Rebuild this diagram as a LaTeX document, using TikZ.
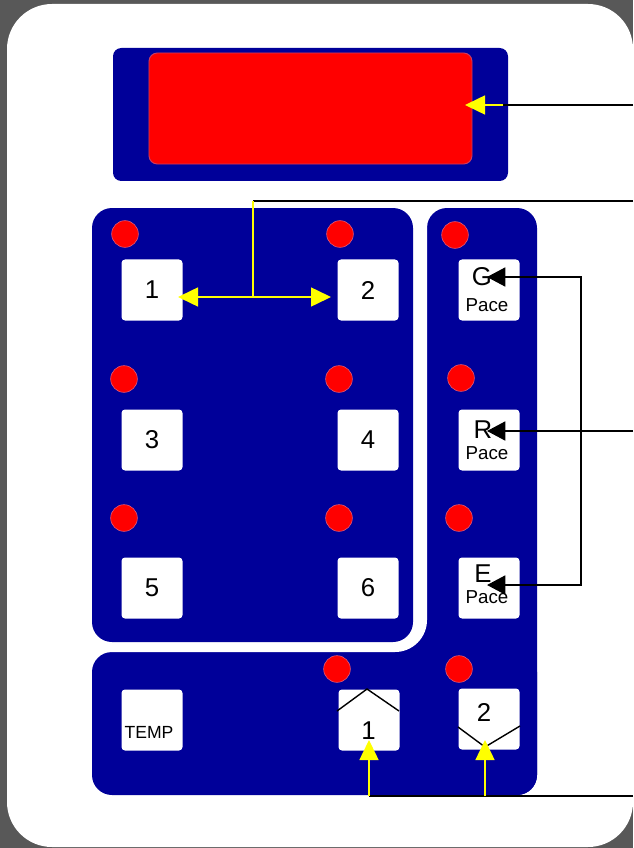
\documentclass[tikz,border=0pt]{standalone}
\usepackage{fontspec}
\newfontfamily\panelfont{Liberation Sans}
\usetikzlibrary{arrows.meta,calc}
\definecolor{panelblue}{RGB}{0,0,153}
\definecolor{bggrey}{RGB}{88,88,88}
\definecolor{ledred}{RGB}{255,0,0}
\definecolor{ledrim}{RGB}{225,90,120}
\definecolor{disprim}{RGB}{200,60,100}
\definecolor{callout}{RGB}{255,255,0}

\begin{document}
\begin{tikzpicture}[x=0.03cm,y=-0.03cm,
    btn/.style={fill=white,rounded corners=3pt,minimum size=1.83cm,inner sep=0pt},
    led/.style={circle,fill=ledred,draw=ledrim,line width=0.5pt,minimum size=0.8cm,inner sep=0pt},
    numtxt/.style={font=\panelfont\fontsize{22}{22}\selectfont,inner sep=0pt},
    pacetxt/.style={font=\panelfont\fontsize{16}{16}\selectfont,inner sep=0pt},
    temptxt/.style={font=\panelfont\fontsize{15}{15}\selectfont,inner sep=0pt},
    bline/.style={black,line width=1.6pt},
    yline/.style={callout,line width=1.3pt},
    yarrow/.style={yline,-{Triangle[length=0.6cm,width=0.57cm]}},
    barrow/.style={bline,-{Triangle[length=0.55cm,width=0.57cm]}},
    chev/.style={black,line width=1.2pt}]
    \useasboundingbox (0,0) rectangle (633,848);

    % case
    \fill[bggrey] (0,0) rectangle (633,848);
    \fill[white,rounded corners=1.35cm] (7,4) rectangle (633,847);

    % display
    \fill[panelblue,rounded corners=0.25cm] (113,48) rectangle (508,181);
    \node[fill=ledred,draw=disprim,line width=0.8pt,rounded corners=0.25cm,
        minimum width=9.69cm,minimum height=3.33cm] (disp) at (310.5,108.5) {};

    % key panels
    \fill[panelblue,rounded corners=0.6cm] (427,208) rectangle (537,795);
    \fill[panelblue,rounded corners=0.6cm] (92,652) rectangle (537,795);
    \fill[panelblue] (380,600) rectangle (440,660);
    \fill[white,rounded corners=0.96cm] (60,192) rectangle (427,652);
    \fill[panelblue,rounded corners=0.6cm] (92,208) rectangle (413,642);

    % leds
    \node[led] (l1) at (125,234) {};
    \node[led] (l2) at (340,234) {};
    \node[led] (l3) at (124,379) {};
    \node[led] (l4) at (339,379) {};
    \node[led] (l5) at (124,518) {};
    \node[led] (l6) at (339,518) {};
    \node[led] (lG) at (455,235) {};
    \node[led] (lR) at (461,378) {};
    \node[led] (lE) at (459,518) {};
    \node[led] (lU) at (337,669) {};
    \node[led] (lD) at (459,669) {};

    % keys
    \node[btn,numtxt] (k1) at (152,290) {1};
    \node[btn,numtxt] (k2) at (368,290) {2};
    \node[btn,numtxt] (k3) at (152,440) {3};
    \node[btn,numtxt] (k4) at (368,440) {4};
    \node[btn,numtxt] (k5) at (152,588) {5};
    \node[btn,numtxt] (k6) at (368,588) {6};
    \node[btn] (kG) at (489,290) {};
    \node[btn] (kR) at (489,440) {};
    \node[btn] (kE) at (489,588) {};
    \node[btn] (kT) at (152,720) {};
    \node[btn] (kU) at (369,720) {};
    \node[btn] (kD) at (489,719) {};

    \node[numtxt] (tG) at (482,277) {G};
    \node[pacetxt] (pG) at (487,305) {Pace};
    \node[numtxt] (tR) at (483,430) {R};
    \node[pacetxt] (pR) at (487,453) {Pace};
    \node[numtxt] (tE) at (483,574) {E};
    \node[pacetxt] (pE) at (487,597) {Pace};
    \node[temptxt] (tT) at (149,732) {TEMP};
    \node[numtxt] (tU) at (368.5,731) {1};
    \node[numtxt] (tD) at (484,712) {2};

    \draw[chev] (337,711) -- (367,689) -- (399,711);
    \draw[chev] (458,727) -- (485,747) -- (520,726);

    % callouts
    \coordinate (eDisp) at (633,105);
    \coordinate (jDisp) at (503,105);
    \coordinate (aDisp) at (465,105);
    \draw[bline] (eDisp) -- (jDisp);
    \draw[yarrow] (jDisp) -- (aDisp);

    \coordinate (eKeys) at (633,201);
    \coordinate (jKeys) at (253,201);
    \coordinate (mKeys) at (253,297);
    \coordinate (a1) at (178,297);
    \coordinate (a2) at (331,297);
    \draw[bline] (eKeys) -- (jKeys);
    \draw[yline] (jKeys) -- (mKeys);
    \draw[yarrow] (mKeys) -- (a1);
    \draw[yarrow] (mKeys) -- (a2);

    \coordinate (ePace) at (633,431);
    \coordinate (jPace) at (581,431);
    \coordinate (cG) at (581,277);
    \coordinate (cE) at (581,585);
    \coordinate (aG) at (487,277);
    \coordinate (aR) at (487,431);
    \coordinate (aE) at (487,585);
    \draw[bline] (ePace) -- (jPace);
    \draw[barrow] (jPace) -- (aR);
    \draw[barrow] (jPace) -- (cG) -- (aG);
    \draw[barrow] (jPace) -- (cE) -- (aE);

    \coordinate (eStep) at (633,796);
    \coordinate (jU) at (369,796);
    \coordinate (jD) at (485,796);
    \coordinate (aU) at (369,740);
    \coordinate (aD) at (485,740);
    \draw[bline] (eStep) -- (jU);
    \draw[yarrow] (jU) -- (aU);
    \draw[yarrow] (jD) -- (aD);
\end{tikzpicture}
\end{document}
